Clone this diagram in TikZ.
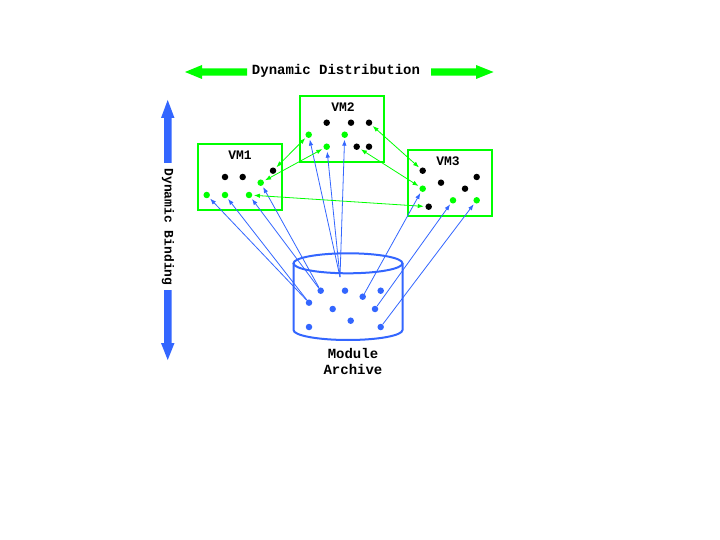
\documentclass[tikz,border=0pt]{standalone}
\usepackage{fontspec}
\newfontfamily\monofont{Liberation Mono}
\usetikzlibrary{arrows.meta}
\definecolor{vgreen}{RGB}{0,255,0}
\definecolor{vblue}{RGB}{51,102,255}
\tikzset{
  dotk/.style={circle,fill=black,minimum size=6.5pt,inner sep=0pt},
  dotg/.style={circle,fill=vgreen,minimum size=6.5pt,inner sep=0pt},
  dotb/.style={circle,fill=vblue,minimum size=6.5pt,inner sep=0pt},
  vmbox/.style={draw=vgreen,line width=2pt,fill=none},
  lbl/.style={font=\monofont\bfseries\fontsize{13}{15}\selectfont,inner sep=0pt},
  biglbl/.style={font=\monofont\bfseries\fontsize{14}{16}\selectfont,inner sep=0pt},
  garrow/.style={draw=vgreen,line width=0.8pt,{Latex[length=6pt,width=4.5pt]}-{Latex[length=6pt,width=4.5pt]},shorten <=1.5pt,shorten >=1.5pt},
  barrow/.style={draw=vblue,line width=0.8pt,-{Latex[length=6pt,width=4.5pt]},shorten >=1.5pt},
}
\begin{document}
\begin{tikzpicture}[x=1pt,y=-1pt]
\useasboundingbox (0,0) rectangle (720,540);
\fill[white] (0,0) rectangle (720,540);

% big green double arrow (Dynamic Distribution)
\fill[vgreen] (185,72) -- (202,65) -- (202,68.3) -- (247,68.3) -- (247,75.7) -- (202,75.7) -- (202,79) -- cycle;
\fill[vgreen] (493.5,72) -- (476,65) -- (476,68.3) -- (431,68.3) -- (431,75.7) -- (476,75.7) -- (476,79) -- cycle;
\node[biglbl] (dist) at (336,71) {Dynamic Distribution};

% big blue double arrow (Dynamic Binding)
\fill[vblue] (167.7,100) -- (161,118) -- (164,118) -- (164,163) -- (171.5,163) -- (171.5,118) -- (174.5,118) -- cycle;
\fill[vblue] (167.7,360) -- (161,343) -- (164,343) -- (164,290) -- (171.5,290) -- (171.5,343) -- (174.5,343) -- cycle;
\node[lbl,rotate=-90] (bind) at (168,227) {Dynamic Binding};

% VM boxes
\draw[vmbox] (198,144) rectangle (282,210);
\draw[vmbox] (300,96) rectangle (384,162);
\draw[vmbox] (408,150) rectangle (492,216);
\node[lbl] (vm1) at (240,155) {VM1};
\node[lbl] (vm2) at (343,107) {VM2};
\node[lbl] (vm3) at (448,161) {VM3};

% VM1 dots
\node[dotk] (k11) at (225,177) {};
\node[dotk] (k12) at (242.7,177) {};
\node[dotk] (k13) at (273,170.7) {};
\node[dotg] (g11) at (206.7,195) {};
\node[dotg] (g12) at (225,195) {};
\node[dotg] (g13) at (249,195) {};
\node[dotg] (g14) at (260.7,182.7) {};
% VM2 dots
\node[dotk] (k21) at (326.7,122.7) {};
\node[dotk] (k22) at (351,122.7) {};
\node[dotk] (k23) at (369,122.7) {};
\node[dotk] (k24) at (356.7,146.7) {};
\node[dotk] (k25) at (369,146.7) {};
\node[dotg] (g21) at (308.7,134.7) {};
\node[dotg] (g22) at (344.7,134.7) {};
\node[dotg] (g23) at (326.7,146.7) {};
% VM3 dots
\node[dotk] (k31) at (422.7,170.7) {};
\node[dotk] (k32) at (441,182.7) {};
\node[dotk] (k33) at (476.7,177) {};
\node[dotk] (k34) at (465,188.7) {};
\node[dotk] (k35) at (428.7,206.7) {};
\node[dotg] (g31) at (422.7,188.7) {};
\node[dotg] (g32) at (453,200.3) {};
\node[dotg] (g33) at (476.7,200.3) {};

% Module archive cylinder
\draw[vblue,line width=2pt] (348,263.3) ellipse [x radius=54.5,y radius=10];
\draw[vblue,line width=2pt] (293.5,263.3) -- (293.5,330) arc[start angle=180,end angle=0,x radius=54.5,y radius=10] -- (402.5,263.3);
\node[biglbl] (mod) at (353,353.5) {Module};
\node[biglbl] (arch) at (353,369.5) {Archive};

% archive dots
\node[dotb] (a1) at (320.7,290.7) {};
\node[dotb] (a2) at (345,290.7) {};
\node[dotb] (a3) at (362.7,296.7) {};
\node[dotb] (a4) at (380.7,290.7) {};
\node[dotb] (a5) at (309,302.7) {};
\node[dotb] (a6) at (332.7,309) {};
\node[dotb] (a7) at (375,309) {};
\node[dotb] (a8) at (350.7,320.7) {};
\node[dotb] (a9) at (309,327) {};
\node[dotb] (a10) at (380.7,327) {};
\coordinate (hub) at (340,277);

% blue binding arrows
\draw[barrow] (a5) -- (g11);
\draw[barrow] (a5) -- (g12);
\draw[barrow] (a1) -- (g13);
\draw[barrow] (a1) -- (g14);
\draw[barrow] (hub) -- (g21);
\draw[barrow] (hub) -- (g23);
\draw[barrow] (hub) -- (g22);
\draw[barrow] (a3) -- (g31);
\draw[barrow] (a7) -- (g32);
\draw[barrow] (a10) -- (g33);

% green distribution arrows
\draw[garrow] (g21) -- (k13);
\draw[garrow] (g14) -- (g23);
\draw[garrow] (g13) -- (k35);
\draw[garrow] (k23) -- (k31);
\draw[garrow] (k24) -- (g31);
\end{tikzpicture}
\end{document}
